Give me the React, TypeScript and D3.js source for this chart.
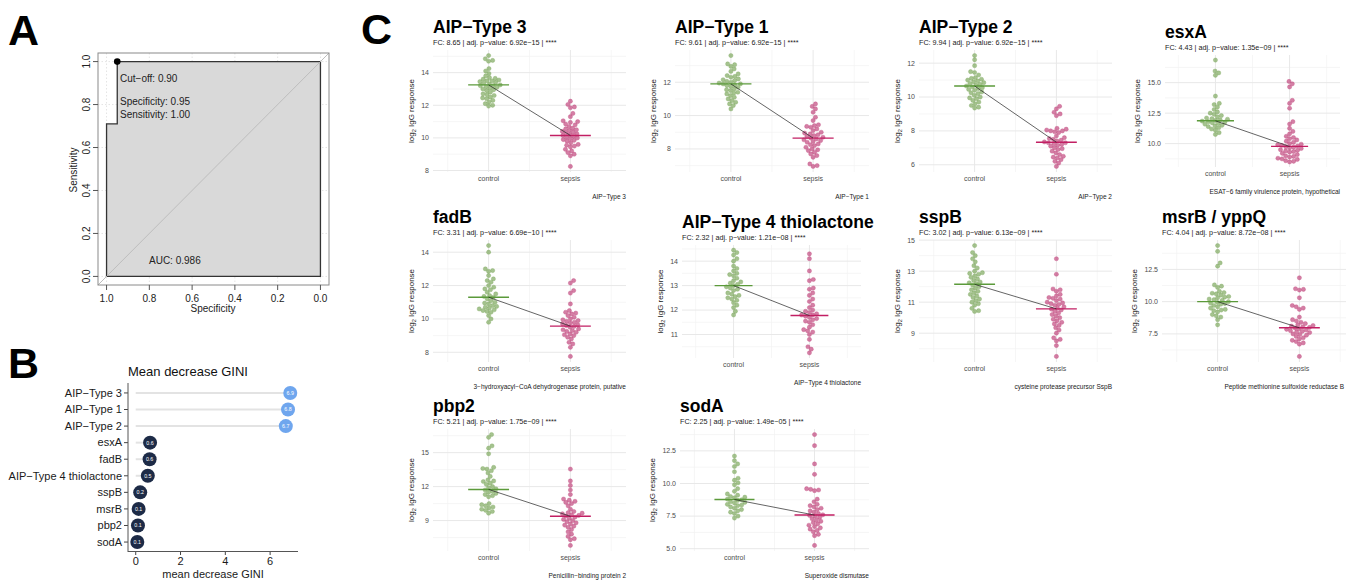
import React from 'react';
import * as d3 from 'd3';

const FONT = '"Liberation Sans", Arial, Helvetica, sans-serif';

// ---------- A: ROC curve ----------
const rocSpecificity = [1.0, 1.0, 0.95, 0.95, 0.0, 0.0];
const rocSensitivity = [0.0, 0.71, 0.71, 1.0, 1.0, 0.0];
const rocTicks = [1.0, 0.8, 0.6, 0.4, 0.2, 0.0];
const cutoffPoint = [0.95, 1.0];
const cutoffValue = '0.90';
const bestSpecificity = '0.95';
const bestSensitivity = '1.00';
const aucValue = '0.986';

// ---------- B: mean decrease GINI ----------
const giniFeatures = ['AIP−Type 3', 'AIP−Type 1', 'AIP−Type 2', 'esxA', 'fadB', 'AIP−Type 4 thiolactone', 'sspB', 'msrB', 'pbp2', 'sodA'];
const giniValues = [6.9, 6.8, 6.7, 0.64, 0.62, 0.54, 0.2, 0.13, 0.1, 0.07];
const giniTicks = [0, 2, 4, 6];

// ---------- C: antigen responses ----------
const groups = ['control', 'sepsis'];
const antigenTitles = ['AIP−Type 3', 'AIP−Type 1', 'AIP−Type 2', 'esxA', 'fadB', 'AIP−Type 4 thiolactone', 'sspB', 'msrB / yppQ', 'pbp2', 'sodA'];
const antigenCaptions = [
  'AIP−Type 3', 'AIP−Type 1', 'AIP−Type 2', 'ESAT−6 family virulence protein, hypothetical',
  '3−hydroxyacyl−CoA dehydrogenase protein, putative', 'AIP−Type 4 thiolactone', 'cysteine protease precursor SspB',
  'Peptide methionine sulfoxide reductase B', 'Penicillin−binding protein 2', 'Superoxide dismutase',
];
const foldChanges = ['8.65', '9.61', '9.94', '4.43', '3.31', '2.32', '3.02', '4.04', '5.21', '2.25'];
const adjPValues = ['6.92e−15', '6.92e−15', '6.92e−15', '1.35e−09', '6.69e−10', '1.21e−08', '6.13e−09', '8.72e−08', '1.75e−09', '1.49e−05'];
const significance = ['****', '****', '****', '****', '****', '****', '****', '****', '****', '****'];
const controlMeans = [13.25, 11.9, 10.65, 11.87, 11.3, 13.0, 12.15, 10.0, 11.75, 8.77];
const sepsisMeans = [10.15, 8.65, 7.33, 9.77, 9.57, 11.78, 10.57, 7.97, 9.38, 7.58];
const yTickLabels = [
  ['8', '10', '12', '14'], ['8', '10', '12'], ['6', '8', '10', '12'], ['10.0', '12.5', '15.0'], ['8', '10', '12', '14'],
  ['11', '12', '13', '14'], ['9', '11', '13', '15'], ['7.5', '10.0', '12.5'], ['9', '12', '15'], ['5.0', '7.5', '10.0', '12.5'],
];

const aip3Control = [15.05, 14.85, 14.75, 14.7, 14.25, 14.1, 13.95, 13.8, 13.7, 13.65, 13.6, 13.55, 13.5, 13.5, 13.45, 13.4, 13.35, 13.3, 13.25, 13.2, 13.2, 13.15, 13.1, 13.05, 13.0, 12.95, 12.9, 12.8, 12.7, 12.65, 12.6, 12.5, 12.45, 12.4, 12.3, 12.2, 12.1, 12.0, 11.95];
const aip3Sepsis = [12.25, 12.05, 11.9, 11.85, 11.5, 11.3, 11.05, 11.0, 10.95, 10.85, 10.8, 10.7, 10.6, 10.55, 10.5, 10.45, 10.4, 10.35, 10.3, 10.25, 10.2, 10.15, 10.1, 10.05, 10.0, 9.95, 9.9, 9.85, 9.8, 9.7, 9.6, 9.55, 9.5, 9.45, 9.3, 9.2, 9.1, 9.0, 8.9, 8.25];
const aip1Control = [13.6, 13.1, 13.05, 12.95, 12.8, 12.65, 12.5, 12.4, 12.35, 12.3, 12.2, 12.15, 12.1, 12.05, 12.0, 11.95, 11.9, 11.9, 11.85, 11.8, 11.75, 11.7, 11.6, 11.55, 11.5, 11.4, 11.35, 11.3, 11.2, 11.1, 11.0, 10.9, 10.8, 10.7, 10.6, 10.4];
const aip1Sepsis = [10.7, 10.55, 10.4, 10.2, 9.9, 9.7, 9.45, 9.4, 9.35, 9.3, 9.2, 9.1, 9.0, 8.95, 8.9, 8.85, 8.8, 8.75, 8.7, 8.65, 8.6, 8.55, 8.5, 8.45, 8.4, 8.3, 8.25, 8.2, 8.1, 8.0, 7.95, 7.9, 7.8, 7.7, 7.6, 7.5, 7.1, 7.0, 6.95];
const aip2Control = [12.45, 12.2, 11.85, 11.5, 11.45, 11.3, 11.15, 11.1, 11.05, 11.0, 10.95, 10.9, 10.85, 10.8, 10.75, 10.7, 10.65, 10.6, 10.55, 10.5, 10.45, 10.4, 10.3, 10.25, 10.2, 10.1, 10.0, 9.95, 9.9, 9.8, 9.7, 9.6, 9.5, 9.4, 9.35];
const aip2Sepsis = [9.45, 9.3, 9.1, 9.0, 8.9, 8.15, 8.1, 8.05, 8.0, 8.0, 7.95, 7.9, 7.7, 7.6, 7.55, 7.5, 7.45, 7.4, 7.35, 7.3, 7.3, 7.25, 7.2, 7.15, 7.1, 7.0, 6.95, 6.9, 6.8, 6.7, 6.6, 6.5, 6.45, 6.4, 6.3, 6.2, 6.1, 5.9];
const esxAControl = [16.85, 15.95, 15.8, 15.6, 13.9, 13.3, 13.2, 13.0, 12.8, 12.6, 12.5, 12.4, 12.3, 12.2, 12.1, 12.05, 12.0, 11.95, 11.9, 11.85, 11.8, 11.75, 11.7, 11.65, 11.6, 11.5, 11.45, 11.4, 11.3, 11.2, 11.1, 10.9, 10.75];
const esxASepsis = [15.1, 14.9, 14.65, 13.55, 13.3, 12.9, 11.8, 11.6, 11.25, 11.0, 10.8, 10.6, 10.5, 10.4, 10.3, 10.2, 10.1, 10.0, 9.95, 9.9, 9.85, 9.8, 9.75, 9.7, 9.65, 9.6, 9.5, 9.45, 9.4, 9.35, 9.3, 9.2, 9.1, 9.0, 8.95, 8.9, 8.8, 8.75, 8.7, 8.6, 8.55, 8.5];
const fadBControl = [14.4, 14.0, 13.0, 12.9, 12.85, 12.6, 12.4, 12.3, 12.2, 12.0, 11.9, 11.8, 11.75, 11.6, 11.5, 11.4, 11.35, 11.3, 11.2, 11.1, 11.0, 10.95, 10.9, 10.8, 10.75, 10.7, 10.65, 10.6, 10.55, 10.5, 10.45, 10.4, 10.2, 10.0, 9.8];
const fadBSepsis = [12.3, 12.15, 11.7, 11.55, 10.9, 10.5, 10.4, 10.35, 10.3, 10.2, 10.1, 10.0, 9.95, 9.9, 9.85, 9.8, 9.75, 9.7, 9.65, 9.6, 9.55, 9.5, 9.4, 9.35, 9.3, 9.25, 9.2, 9.1, 9.05, 9.0, 8.9, 8.8, 8.6, 8.5, 8.3, 7.75];
const aip4Control = [14.45, 14.35, 14.25, 14.1, 14.0, 13.8, 13.7, 13.6, 13.5, 13.45, 13.4, 13.3, 13.2, 13.15, 13.1, 13.05, 13.0, 12.95, 12.9, 12.85, 12.8, 12.7, 12.65, 12.6, 12.55, 12.5, 12.45, 12.4, 12.3, 12.2, 12.1, 11.95, 11.8];
const aip4Sepsis = [14.3, 14.1, 13.6, 13.25, 13.2, 12.9, 12.85, 12.7, 12.6, 12.45, 12.35, 12.2, 12.1, 12.0, 11.95, 11.9, 11.85, 11.8, 11.8, 11.75, 11.7, 11.65, 11.6, 11.55, 11.5, 11.4, 11.3, 11.2, 11.15, 11.1, 11.0, 10.8, 10.5, 10.4, 10.25];
const sspBControl = [14.65, 14.2, 14.0, 13.8, 13.6, 13.35, 13.2, 13.0, 12.9, 12.85, 12.8, 12.7, 12.6, 12.5, 12.4, 12.3, 12.25, 12.2, 12.1, 12.0, 11.9, 11.8, 11.7, 11.6, 11.5, 11.4, 11.3, 11.2, 11.1, 11.0, 10.9, 10.8, 10.6, 10.45, 10.4];
const sspBSepsis = [13.8, 12.8, 11.85, 11.8, 11.7, 11.5, 11.4, 11.3, 11.25, 11.2, 11.1, 11.0, 10.95, 10.9, 10.85, 10.8, 10.7, 10.6, 10.55, 10.5, 10.4, 10.3, 10.2, 10.1, 10.0, 9.9, 9.8, 9.7, 9.6, 9.5, 9.35, 9.2, 9.0, 8.7, 8.6, 8.5, 8.2, 7.5];
const msrBControl = [14.35, 13.9, 13.0, 12.75, 11.3, 11.2, 11.1, 10.8, 10.7, 10.65, 10.6, 10.5, 10.4, 10.35, 10.3, 10.2, 10.15, 10.1, 10.0, 9.95, 9.9, 9.85, 9.8, 9.7, 9.6, 9.5, 9.4, 9.35, 9.3, 9.2, 9.0, 8.9, 8.8, 8.6, 8.2];
const msrBSepsis = [11.85, 11.0, 10.95, 10.9, 10.3, 9.7, 9.6, 9.5, 9.4, 8.8, 8.6, 8.5, 8.4, 8.3, 8.2, 8.15, 8.1, 8.05, 8.0, 7.95, 7.9, 7.85, 7.8, 7.75, 7.7, 7.65, 7.6, 7.5, 7.45, 7.4, 7.3, 7.2, 7.1, 7.0, 6.9, 6.8, 6.7, 5.75];
const pbp2Control = [16.6, 16.35, 15.6, 15.4, 14.9, 13.7, 13.6, 13.55, 13.4, 13.2, 12.9, 12.6, 12.5, 12.45, 12.3, 12.2, 12.0, 11.9, 11.8, 11.7, 11.6, 11.5, 11.4, 11.3, 11.2, 11.1, 10.5, 10.4, 10.3, 10.2, 10.1, 10.0, 9.9, 9.8, 9.65];
const pbp2Sepsis = [13.55, 12.5, 12.1, 11.7, 11.3, 10.9, 10.8, 10.7, 10.6, 10.5, 10.3, 10.0, 9.8, 9.7, 9.65, 9.6, 9.5, 9.45, 9.4, 9.3, 9.2, 9.1, 9.0, 8.9, 8.8, 8.7, 8.6, 8.5, 8.4, 8.2, 8.0, 7.8, 7.6, 7.4, 7.3, 6.8];
const sodAControl = [12.1, 11.75, 11.5, 11.3, 10.9, 10.4, 10.25, 10.05, 9.9, 9.6, 9.4, 9.2, 9.1, 9.0, 8.95, 8.9, 8.8, 8.75, 8.7, 8.6, 8.55, 8.5, 8.4, 8.35, 8.3, 8.2, 8.1, 8.0, 7.9, 7.8, 7.7, 7.5, 7.35];
const sodASepsis = [13.75, 12.9, 11.5, 10.7, 9.6, 9.55, 9.5, 9.45, 8.8, 8.6, 8.4, 8.3, 8.2, 8.1, 8.0, 7.9, 7.8, 7.7, 7.6, 7.55, 7.5, 7.4, 7.3, 7.2, 7.1, 7.0, 6.9, 6.8, 6.7, 6.6, 6.5, 6.4, 6.3, 6.1, 6.0, 5.25];

const controlValues = [aip3Control, aip1Control, aip2Control, esxAControl, fadBControl, aip4Control, sspBControl, msrBControl, pbp2Control, sodAControl];
const sepsisValues = [aip3Sepsis, aip1Sepsis, aip2Sepsis, esxASepsis, fadBSepsis, aip4Sepsis, sspBSepsis, msrBSepsis, pbp2Sepsis, sodASepsis];

// panel boxes of the small plots: [left, top, width, height]
const panelBoxes = [
  [433, 50, 193, 122], [675, 50, 194, 122], [919, 50, 193, 122], [1165, 55, 175, 112],
  [433, 240, 193, 122], [682, 245, 179, 113], [919, 240, 193, 122], [1162, 240, 193, 122],
  [433, 429, 193, 122], [680, 429, 189, 122],
];

const GREEN = '#7fa95f';
const GREEN_DARK = '#5b9a3a';
const PINK = '#c2497f';
const PINK_DARK = '#c21f63';

// rough text width for numeric tick labels
const numWidth = (s: string, fs: number) => [...s].reduce((a, c) => a + (c === '.' ? 0.278 : 0.556), 0) * fs;

// simple beeswarm: offsets so that circles of diameter d don't overlap
function swarm(ys: number[], d: number): number[] {
  const order = ys.map((_, i) => i).sort((a, b) => ys[b] - ys[a]);
  const placed: { x: number; y: number }[] = [];
  const out = new Array(ys.length).fill(0);
  for (const i of order) {
    const y = ys[i];
    const near = placed.filter((p) => Math.abs(p.y - y) < d);
    const cands = [0];
    near.forEach((p) => {
      const dx = Math.sqrt(d * d - (p.y - y) ** 2);
      cands.push(p.x + dx, p.x - dx);
    });
    cands.sort((a, b) => Math.abs(a) - Math.abs(b));
    const x = cands.find((c) => near.every((p) => (p.x - c) ** 2 + (p.y - y) ** 2 >= d * d - 0.01)) ?? 0;
    placed.push({ x, y });
    out[i] = x;
  }
  return out;
}

function RocPanel() {
  const x = d3.scaleLinear().domain([1.04, -0.04]).range([98, 329]);
  const y = d3.scaleLinear().domain([-0.04, 1.04]).range([285, 53]);
  const poly = rocSpecificity.map((s, i) => [x(s), y(rocSensitivity[i])] as [number, number]);
  const line = d3.line();
  return (
    <g fontFamily={FONT} fill="#222">
      <text x={8} y={45} fontSize={43} fontWeight="bold" fill="#000">A</text>
      {rocTicks.map((t) => (
        <g key={t}>
          <line x1={x(t)} x2={x(t)} y1={53} y2={285} stroke="#e4e4e4" strokeDasharray="1.5,2" />
          <line x1={98} x2={329} y1={y(t)} y2={y(t)} stroke="#e4e4e4" strokeDasharray="1.5,2" />
        </g>
      ))}
      <path d={line(poly) + 'Z'} fill="#d9d9d9" stroke="#333" strokeWidth={1.3} />
      <line x1={98} y1={285} x2={329} y2={53} stroke="#bdbdbd" strokeWidth={1} />
      <rect x={98} y={53} width={231} height={232} fill="none" stroke="#8a8a8a" strokeWidth={1} />
      <circle cx={x(cutoffPoint[0])} cy={y(cutoffPoint[1])} r={3.3} fill="#000" />
      <text x={120} y={82} fontSize={10}>{`Cut−off: ${cutoffValue}`}</text>
      <text x={120} y={105} fontSize={10}>{`Specificity: ${bestSpecificity}`}</text>
      <text x={120} y={117.5} fontSize={10}>{`Sensitivity: ${bestSensitivity}`}</text>
      <text x={149} y={264} fontSize={10}>{`AUC: ${aucValue}`}</text>
      {rocTicks.map((t) => (
        <g key={'t' + t}>
          <line x1={x(t)} x2={x(t)} y1={285} y2={290} stroke="#555" />
          <text x={x(t)} y={301.5} fontSize={10} textAnchor="middle">{t.toFixed(1)}</text>
          <line x1={98} x2={93} y1={y(t)} y2={y(t)} stroke="#555" />
          <text transform={`translate(90,${y(t)}) rotate(-90)`} fontSize={10} textAnchor="middle">{t.toFixed(1)}</text>
        </g>
      ))}
      <text x={213} y={312} fontSize={10} textAnchor="middle">Specificity</text>
      <text transform="translate(76.5,170) rotate(-90)" fontSize={10} textAnchor="middle">Sensitivity</text>
    </g>
  );
}

function GiniPanel() {
  const x = d3.scaleLinear().domain([-0.345, 7.245]).range([128, 298]);
  const y = d3.scalePoint().domain(giniFeatures).range([383, 552]).padding(0.6);
  const color = d3.scaleLinear<string>().domain([0.7, 6.7]).range(['#1d2b47', '#6fa6ee']).clamp(true);
  return (
    <g fontFamily={FONT}>
      <text x={8} y={378} fontSize={43} fontWeight="bold" fill="#000">B</text>
      <text x={128} y={376} fontSize={13} fill="#111">Mean decrease GINI</text>
      {giniFeatures.map((f, i) => (
        <line key={'s' + f} x1={x(0)} x2={x(giniValues[i])} y1={y(f)} y2={y(f)} stroke="#e3e3e3" strokeWidth={2} />
      ))}
      {giniFeatures.map((f, i) => (
        <g key={f}>
          <circle cx={x(giniValues[i])} cy={y(f)} r={7} fill={color(giniValues[i])} />
          <text x={x(giniValues[i])} y={y(f)! + 1.9} fontSize={5.3} fill="#fff" textAnchor="middle">{giniValues[i].toFixed(1)}</text>
          <line x1={124} x2={128} y1={y(f)} y2={y(f)} stroke="#444" />
          <text x={122} y={y(f)! + 3.8} fontSize={11} textAnchor="end" fill="#1a1a1a">{f}</text>
        </g>
      ))}
      <line x1={128} x2={128} y1={383} y2={552} stroke="#555" strokeWidth={1} />
      <line x1={128} x2={298} y1={551.5} y2={551.5} stroke="#555" strokeWidth={1} />
      {giniTicks.map((t) => (
        <g key={t}>
          <line x1={x(t)} x2={x(t)} y1={552} y2={555} stroke="#444" />
          <text x={x(t)} y={565} fontSize={11} textAnchor="middle" fill="#1a1a1a">{t}</text>
        </g>
      ))}
      <text x={213} y={578} fontSize={11} textAnchor="middle" fill="#1a1a1a">mean decrease GINI</text>
    </g>
  );
}

function AntigenPlot({ i }: { i: number }) {
  const [px, py, pw, ph] = panelBoxes[i];
  const ctrl = controlValues[i];
  const seps = sepsisValues[i];
  const all = ctrl.concat(seps);
  const lo = d3.min(all)!;
  const hi = d3.max(all)!;
  const pad = (hi - lo) * 0.05;
  const y = d3.scaleLinear().domain([lo - pad, hi + pad]).range([py + ph, py]);
  const x = d3.scalePoint().domain(groups).range([px, px + pw]).padding(0.68);
  const step = x.step();
  const ticks = yTickLabels[i].map(Number);
  const tStep = ticks[1] - ticks[0];
  const minors = d3.range(ticks[0] - tStep / 2, hi + pad, tStep).filter((v) => v > lo - pad && v < hi + pad);
  const vMinors = [x(groups[0])! - step / 2, x(groups[0])! + step / 2, x(groups[1])! + step / 2];
  const tickW = d3.max(yTickLabels[i], (s) => numWidth(s, 7))!;
  const ytx = px - 4 - tickW - 7.5;
  const means = [controlMeans[i], sepsisMeans[i]];
  const sets = [ctrl, seps];
  const fills = [GREEN, PINK];
  const darks = [GREEN_DARK, PINK_DARK];
  const capRight = Math.min(px + pw, 1344);
  return (
    <g fontFamily={FONT}>
      {minors.map((v) => (
        <line key={'m' + v} x1={px} x2={px + pw} y1={y(v)} y2={y(v)} stroke="#f2f2f2" strokeWidth={0.7} />
      ))}
      {vMinors.map((v) => (
        <line key={'vm' + v} x1={v} x2={v} y1={py} y2={py + ph} stroke="#f2f2f2" strokeWidth={0.7} />
      ))}
      {ticks.map((v) => (
        <line key={'M' + v} x1={px} x2={px + pw} y1={y(v)} y2={y(v)} stroke="#e8e8e8" strokeWidth={1} />
      ))}
      {groups.map((g) => (
        <line key={'vg' + g} x1={x(g)} x2={x(g)} y1={py} y2={py + ph} stroke="#e8e8e8" strokeWidth={1} />
      ))}
      {sets.map((vals, gi) => {
        const ys = vals.map((v) => y(v));
        const offs = swarm(ys, 4.1);
        return vals.map((v, k) => (
          <circle key={gi + '-' + k} cx={x(groups[gi])! + offs[k]} cy={ys[k]} r={2.1}
            fill={fills[gi]} fillOpacity={0.7} stroke={fills[gi]} strokeOpacity={0.9} strokeWidth={0.4} />
        ));
      })}
      {groups.map((g, gi) => (
        <line key={'mean' + g} x1={x(g)! - step / 4} x2={x(g)! + step / 4} y1={y(means[gi])} y2={y(means[gi])}
          stroke={darks[gi]} strokeWidth={1.4} />
      ))}
      <line x1={x(groups[0])} y1={y(means[0])} x2={x(groups[1])} y2={y(means[1])} stroke="#222" strokeWidth={0.7} />
      {ticks.map((v, k) => (
        <text key={'tl' + v} x={px - 4} y={y(v) + 2.4} fontSize={7} fill="#4d4d4d" textAnchor="end">{yTickLabels[i][k]}</text>
      ))}
      {groups.map((g) => (
        <text key={'xl' + g} x={x(g)} y={py + ph + 8.5} fontSize={7} fill="#4d4d4d" textAnchor="middle">{g}</text>
      ))}
      <text transform={`translate(${ytx},${py + ph / 2}) rotate(-90)`} fontSize={8} fill="#1a1a1a" textAnchor="middle">
        log<tspan fontSize={5.6} dy={1.8}>2</tspan><tspan dy={-1.8}> IgG response</tspan>
      </text>
      <text x={px} y={py - 17} fontSize={17.5} fontWeight="bold" fill="#000">{antigenTitles[i]}</text>
      <text x={px} y={py - 5} fontSize={7.2} fill="#1a1a1a">
        {`FC: ${foldChanges[i]} | adj. p−value: ${adjPValues[i]} | ${significance[i]}`}
      </text>
      <text x={capRight} y={py + ph + 27} fontSize={6.5} fill="#1a1a1a" textAnchor="end">{antigenCaptions[i]}</text>
    </g>
  );
}

export default function App() {
  return (
    <svg width={1346} height={580} viewBox="0 0 1346 580"
      style={{ position: 'absolute', left: 0, top: 0, display: 'block', background: '#fff' }}>
      <rect width={1346} height={580} fill="#fff" />
      <RocPanel />
      <GiniPanel />
      <text x={361} y={44} fontSize={43} fontWeight="bold" fontFamily={FONT} fill="#000">C</text>
      {antigenTitles.map((_, i) => (
        <AntigenPlot key={i} i={i} />
      ))}
    </svg>
  );
}
